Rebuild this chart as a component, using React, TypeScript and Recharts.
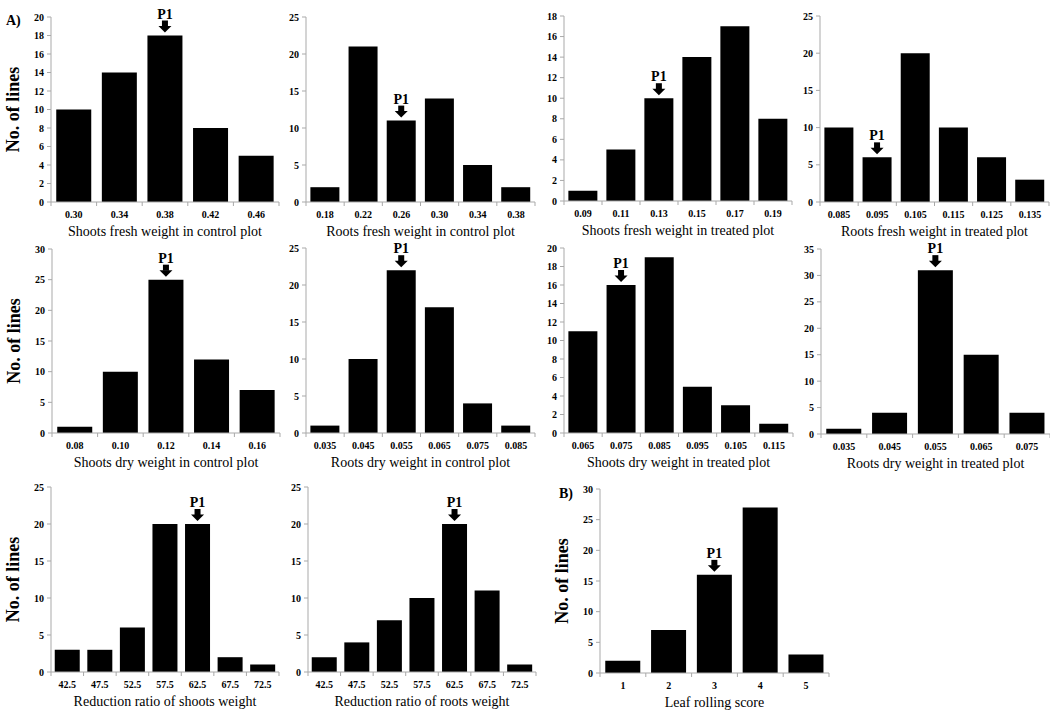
import React from 'react';
import { BarChart, Bar, XAxis, YAxis, LabelList } from 'recharts';

const FONT = "'Liberation Serif', 'Times New Roman', Times, serif";
const AXIS_GREY = '#a9a9a9';

// --- data: bins, number of lines per bin, y ticks ---
const shootsFreshCtrlBins = ['0.30', '0.34', '0.38', '0.42', '0.46'];
const shootsFreshCtrlLines = [10, 14, 18, 8, 5];
const shootsFreshCtrlTicks = [0, 2, 4, 6, 8, 10, 12, 14, 16, 18, 20];

const rootsFreshCtrlBins = ['0.18', '0.22', '0.26', '0.30', '0.34', '0.38'];
const rootsFreshCtrlLines = [2, 21, 11, 14, 5, 2];
const rootsFreshCtrlTicks = [0, 5, 10, 15, 20, 25];

const shootsFreshTrtBins = ['0.09', '0.11', '0.13', '0.15', '0.17', '0.19'];
const shootsFreshTrtLines = [1, 5, 10, 14, 17, 8];
const shootsFreshTrtTicks = [0, 2, 4, 6, 8, 10, 12, 14, 16, 18];

const rootsFreshTrtBins = ['0.085', '0.095', '0.105', '0.115', '0.125', '0.135'];
const rootsFreshTrtLines = [10, 6, 20, 10, 6, 3];
const rootsFreshTrtTicks = [0, 5, 10, 15, 20, 25];

const shootsDryCtrlBins = ['0.08', '0.10', '0.12', '0.14', '0.16'];
const shootsDryCtrlLines = [1, 10, 25, 12, 7];
const shootsDryCtrlTicks = [0, 5, 10, 15, 20, 25, 30];

const rootsDryCtrlBins = ['0.035', '0.045', '0.055', '0.065', '0.075', '0.085'];
const rootsDryCtrlLines = [1, 10, 22, 17, 4, 1];
const rootsDryCtrlTicks = [0, 5, 10, 15, 20, 25];

const shootsDryTrtBins = ['0.065', '0.075', '0.085', '0.095', '0.105', '0.115'];
const shootsDryTrtLines = [11, 16, 19, 5, 3, 1];
const shootsDryTrtTicks = [0, 2, 4, 6, 8, 10, 12, 14, 16, 18, 20];

const rootsDryTrtBins = ['0.035', '0.045', '0.055', '0.065', '0.075'];
const rootsDryTrtLines = [1, 4, 31, 15, 4];
const rootsDryTrtTicks = [0, 5, 10, 15, 20, 25, 30, 35];

const reductionBins = ['42.5', '47.5', '52.5', '57.5', '62.5', '67.5', '72.5'];
const reductionShootsLines = [3, 3, 6, 20, 20, 2, 1];
const reductionRootsLines = [2, 4, 7, 10, 20, 11, 1];
const reductionTicks = [0, 5, 10, 15, 20, 25];

const leafRollingBins = ['1', '2', '3', '4', '5'];
const leafRollingLines = [2, 7, 16, 27, 3];
const leafRollingTicks = [0, 5, 10, 15, 20, 25, 30];

interface PanelSpec {
  xLabel: string;
  bins: string[];
  lines: number[];
  ticks: number[];
  p1: number; // index of the parent (P1) bin
  yLabel?: boolean;
}

const panels: PanelSpec[] = [
  { xLabel: 'Shoots fresh weight in control plot', bins: shootsFreshCtrlBins, lines: shootsFreshCtrlLines, ticks: shootsFreshCtrlTicks, p1: 2, yLabel: true },
  { xLabel: 'Roots fresh weight in control plot', bins: rootsFreshCtrlBins, lines: rootsFreshCtrlLines, ticks: rootsFreshCtrlTicks, p1: 2 },
  { xLabel: 'Shoots fresh weight in treated plot', bins: shootsFreshTrtBins, lines: shootsFreshTrtLines, ticks: shootsFreshTrtTicks, p1: 2 },
  { xLabel: 'Roots fresh weight in treated plot', bins: rootsFreshTrtBins, lines: rootsFreshTrtLines, ticks: rootsFreshTrtTicks, p1: 1 },
  { xLabel: 'Shoots dry weight in control plot', bins: shootsDryCtrlBins, lines: shootsDryCtrlLines, ticks: shootsDryCtrlTicks, p1: 2, yLabel: true },
  { xLabel: 'Roots dry weight in control plot', bins: rootsDryCtrlBins, lines: rootsDryCtrlLines, ticks: rootsDryCtrlTicks, p1: 2 },
  { xLabel: 'Shoots dry weight in treated plot', bins: shootsDryTrtBins, lines: shootsDryTrtLines, ticks: shootsDryTrtTicks, p1: 1 },
  { xLabel: 'Roots dry weight in treated plot', bins: rootsDryTrtBins, lines: rootsDryTrtLines, ticks: rootsDryTrtTicks, p1: 2 },
  { xLabel: 'Reduction ratio of shoots weight', bins: reductionBins, lines: reductionShootsLines, ticks: reductionTicks, p1: 4, yLabel: true },
  { xLabel: 'Reduction ratio of roots weight', bins: reductionBins, lines: reductionRootsLines, ticks: reductionTicks, p1: 4 },
  { xLabel: 'Leaf rolling score', bins: leafRollingBins, lines: leafRollingLines, ticks: leafRollingTicks, p1: 2, yLabel: true },
];

// plot area boxes on the page: [left, right, top, bottom]
const boxes: [number, number, number, number][] = [
  [51, 279, 17, 202],
  [306, 535, 17, 202],
  [564, 792, 16, 201],
  [820, 1049, 16, 202],
  [52, 280, 249, 433],
  [306, 535, 248, 433],
  [564, 793, 248, 433],
  [821, 1050, 249, 434],
  [51, 279, 487, 672],
  [308, 536, 487, 672],
  [600, 829, 489, 673],
];

const Y_W = 50;
const M_TOP = 16;
const M_RIGHT = 2;
const X_H = 40;

const BinTick = (props: any) => {
  const { x, y, payload, index, count, plotWidth } = props;
  const half = payload && typeof payload.offset === 'number' && payload.offset > 0 ? payload.offset : plotWidth / count / 2;
  return (
    <g>
      <line x1={x - half} x2={x - half} y1={y} y2={y + 4} stroke={AXIS_GREY} />
      {index === count - 1 && <line x1={x + half} x2={x + half} y1={y} y2={y + 4} stroke={AXIS_GREY} />}
      <text x={x} y={y + 16} textAnchor="middle" fontSize={10} fontWeight="bold" fontFamily={FONT} fill="#000">
        {payload.value}
      </text>
    </g>
  );
};

const P1Marker = (props: any) => {
  const { x, y, width, index, target } = props;
  if (index !== target) return null;
  const cx = x + width / 2;
  const tip = y - 3;
  return (
    <g>
      <rect x={cx - 3} y={tip - 12} width={6} height={6} fill="#000" />
      <polygon points={`${cx - 6.5},${tip - 6.5} ${cx + 6.5},${tip - 6.5} ${cx},${tip}`} fill="#000" />
      <text x={cx} y={tip - 14} textAnchor="middle" fontSize={14} fontWeight="bold" fontFamily={FONT} fill="#000">
        P1
      </text>
    </g>
  );
};

const Panel: React.FC<{ spec: PanelSpec; box: [number, number, number, number] }> = ({ spec, box }) => {
  const [pl, pr, pt, pb] = box;
  const plotWidth = pr - pl;
  const width = plotWidth + Y_W + M_RIGHT;
  const height = pb - pt + M_TOP + X_H;
  const data = spec.bins.map((bin, i) => ({ bin, lines: spec.lines[i] }));
  const yMax = spec.ticks[spec.ticks.length - 1];

  return (
    <div style={{ position: 'absolute', left: pl - Y_W, top: pt - M_TOP }}>
      <BarChart
        width={width}
        height={height}
        data={data}
        margin={{ top: M_TOP, right: M_RIGHT, bottom: 0, left: 0 }}
        barCategoryGap="11.5%"
      >
        <XAxis
          dataKey="bin"
          height={X_H}
          interval={0}
          tickSize={0}
          tickMargin={0}
          tickLine={false}
          axisLine={{ stroke: AXIS_GREY }}
          tick={<BinTick count={data.length} plotWidth={plotWidth} />}
          label={{ value: spec.xLabel, position: 'insideBottom', offset: 6, fill: '#000', fontSize: 14, fontFamily: FONT }}
        />
        <YAxis
          width={Y_W}
          type="number"
          domain={[0, yMax]}
          ticks={spec.ticks}
          interval={0}
          tickSize={4}
          tickMargin={3}
          axisLine={{ stroke: AXIS_GREY }}
          tickLine={{ stroke: AXIS_GREY }}
          tick={{ fill: '#000', fontSize: 10, fontWeight: 'bold', fontFamily: FONT }}
          label={
            spec.yLabel
              ? {
                  value: 'No. of lines',
                  angle: -90,
                  position: 'insideLeft',
                  offset: 12,
                  fill: '#000',
                  fontSize: 18,
                  fontWeight: 'bold',
                  fontFamily: FONT,
                  style: { textAnchor: 'middle' },
                }
              : undefined
          }
        />
        <Bar dataKey="lines" fill="#000" isAnimationActive={false}>
          <LabelList dataKey="lines" content={(p: any) => <P1Marker {...p} target={spec.p1} />} />
        </Bar>
      </BarChart>
    </div>
  );
};

export default function App() {
  return (
    <div
      style={{
        position: 'absolute',
        left: 0,
        top: 0,
        width: 1050,
        height: 717,
        overflow: 'hidden',
        background: '#fff',
        fontFamily: FONT,
      }}
    >
      <div style={{ position: 'absolute', left: 6, top: 13, fontSize: 14, fontWeight: 'bold', lineHeight: '16px' }}>A)</div>
      <div style={{ position: 'absolute', left: 559, top: 486, fontSize: 14, fontWeight: 'bold', lineHeight: '16px' }}>B)</div>
      {panels.map((spec, i) => (
        <Panel key={i} spec={spec} box={boxes[i]} />
      ))}
    </div>
  );
}
